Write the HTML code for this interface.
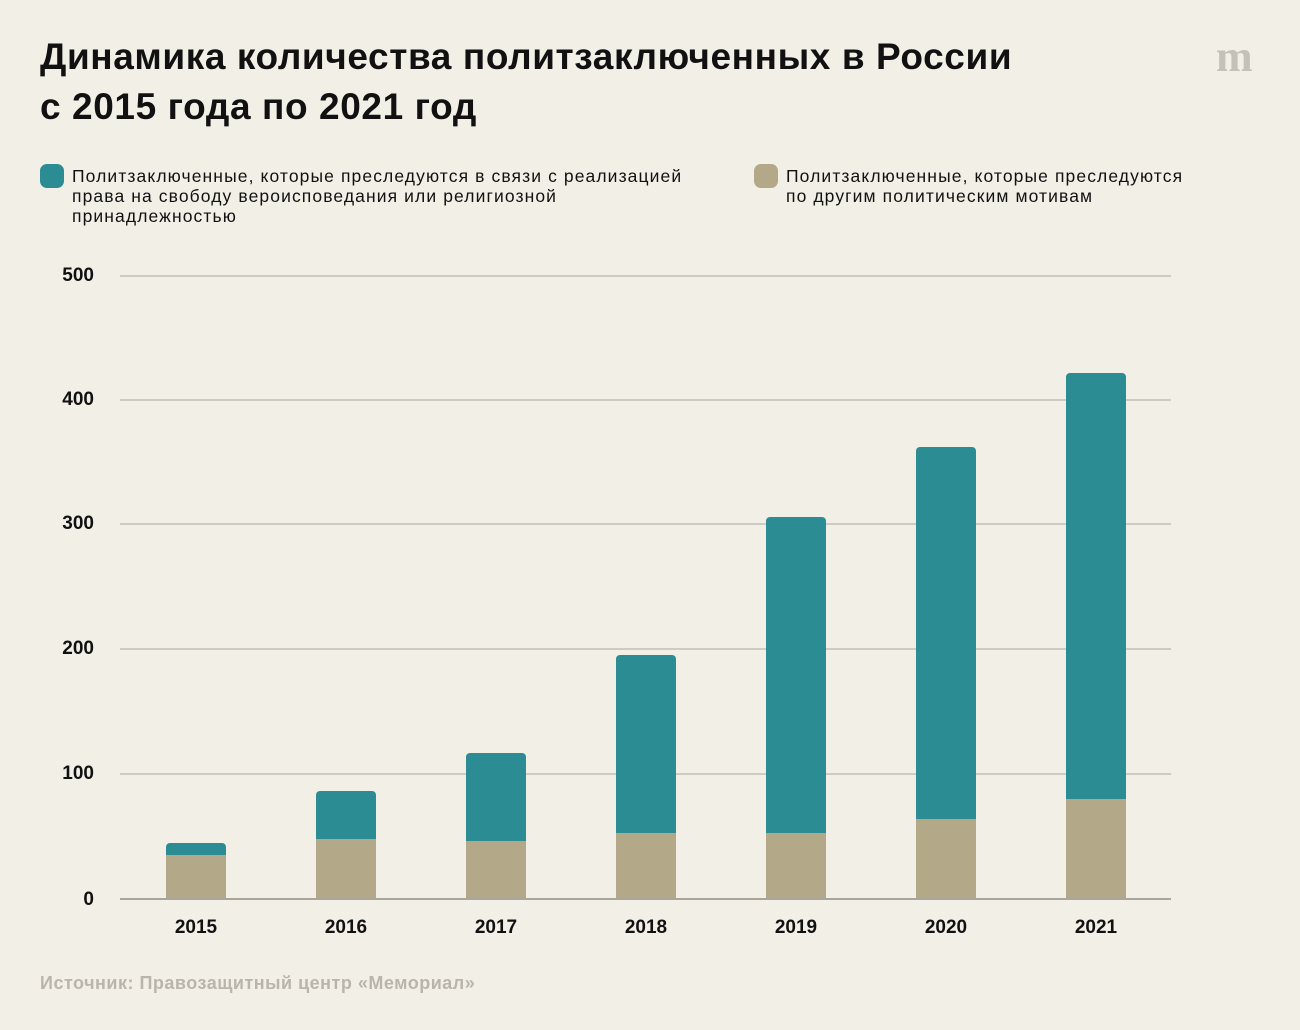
<!DOCTYPE html>
<html><head><meta charset="utf-8"><style>
body{margin:0;width:1300px;height:1030px;background:#f2efe7;font-family:"Liberation Sans",sans-serif;color:#111;position:relative;overflow:hidden}
.a{position:absolute}
h1{position:absolute;left:40px;top:32px;margin:0;font-size:37px;line-height:50px;font-weight:bold;letter-spacing:0.6px;white-space:nowrap}
.leg{font-size:17.5px;line-height:20px;letter-spacing:1.1px;white-space:nowrap}
.sw{width:24px;height:24px;border-radius:7px}
.grid{left:120px;width:1051px;height:1.5px;background:#cfcbc3}
.yl{left:40px;width:54px;text-align:right;font-size:19px;font-weight:bold}
.xl{width:100px;text-align:center;font-size:19px;font-weight:bold;top:917px}
.t{background:#2b8d93;border-radius:4px 4px 0 0;width:60px}
.b{background:#b3a888;width:60px}
</style></head><body>
<h1>Динамика количества политзаключенных в России<br>с 2015 года по 2021 год</h1>
<div class="a" style="left:1216px;top:40px;font-family:'Liberation Serif',serif;font-size:44px;font-weight:bold;color:#c4c1b8;line-height:34px">m</div>
<div class="a sw" style="left:40px;top:164px;background:#2b8d93"></div>
<div class="a leg" style="left:72px;top:166px">Политзаключенные, которые преследуются в связи с реализацией<br>права на свободу вероисповедания или религиозной<br>принадлежностью</div>
<div class="a sw" style="left:754px;top:164px;background:#b3a888"></div>
<div class="a leg" style="left:786px;top:166px">Политзаключенные, которые преследуются<br>по другим политическим мотивам</div>
<div class="a grid" style="top:275px"></div><div class="a yl" style="top:265px">500</div>
<div class="a grid" style="top:399px"></div><div class="a yl" style="top:389px">400</div>
<div class="a grid" style="top:523px"></div><div class="a yl" style="top:513px">300</div>
<div class="a grid" style="top:648px"></div><div class="a yl" style="top:638px">200</div>
<div class="a grid" style="top:773px"></div><div class="a yl" style="top:763px">100</div>
<div class="a grid" style="top:898px;background:#aaa69c"></div><div class="a yl" style="top:889px">0</div>
<div class="a t" style="left:166px;top:843px;height:12px"></div><div class="a b" style="left:166px;top:855px;height:43px"></div>
<div class="a t" style="left:316px;top:791px;height:48px"></div><div class="a b" style="left:316px;top:839px;height:59px"></div>
<div class="a t" style="left:466px;top:753px;height:88px"></div><div class="a b" style="left:466px;top:841px;height:57px"></div>
<div class="a t" style="left:616px;top:655px;height:178px"></div><div class="a b" style="left:616px;top:833px;height:65px"></div>
<div class="a t" style="left:766px;top:517px;height:316px"></div><div class="a b" style="left:766px;top:833px;height:65px"></div>
<div class="a t" style="left:916px;top:447px;height:372px"></div><div class="a b" style="left:916px;top:819px;height:79px"></div>
<div class="a t" style="left:1066px;top:373px;height:426px"></div><div class="a b" style="left:1066px;top:799px;height:99px"></div>
<div class="a xl" style="left:146px">2015</div>
<div class="a xl" style="left:296px">2016</div>
<div class="a xl" style="left:446px">2017</div>
<div class="a xl" style="left:596px">2018</div>
<div class="a xl" style="left:746px">2019</div>
<div class="a xl" style="left:896px">2020</div>
<div class="a xl" style="left:1046px">2021</div>
<div class="a" style="left:40px;top:973px;font-size:18px;letter-spacing:0.5px;color:#b9b5ac;font-weight:bold">Источник: Правозащитный центр «Мемориал»</div>
</body></html>
